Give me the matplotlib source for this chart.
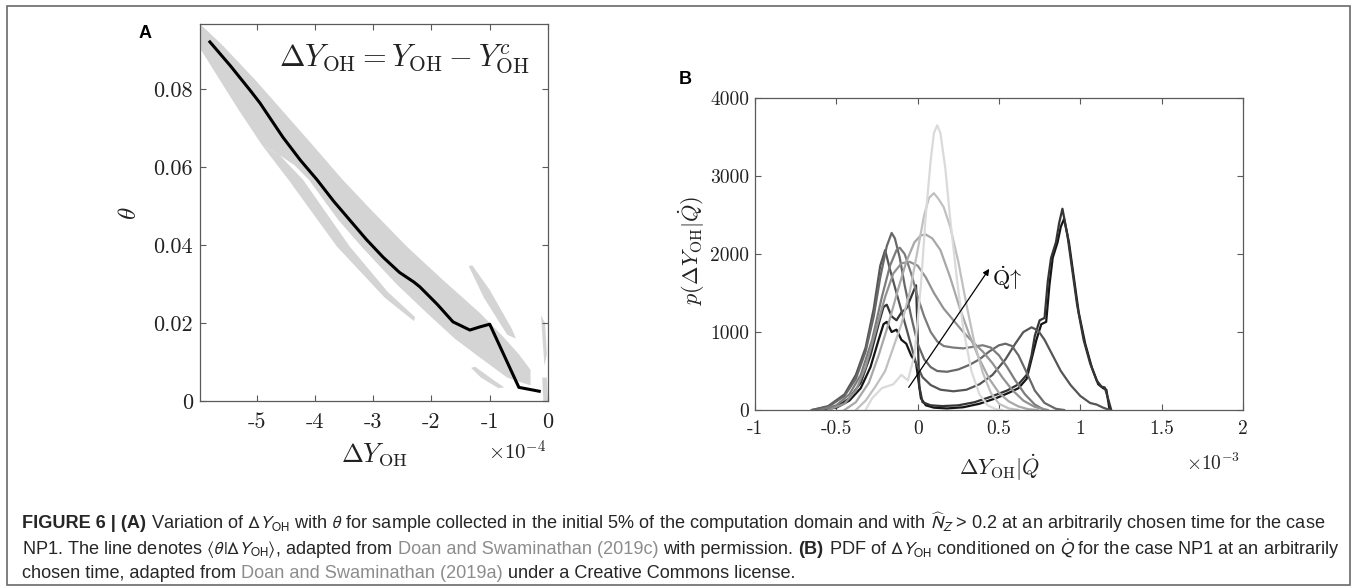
import numpy as np
import matplotlib.pyplot as plt
from matplotlib.patches import Rectangle

plt.rcParams['mathtext.fontset'] = 'cm'

W, H = 1357, 588

# ---------------- panel A (x in units of 1e-4) ----------------
lineA_x = [-5.80, -5.45, -5.10, -4.94, -4.55, -4.25, -3.96, -3.68, -3.40, -3.12, -2.83,
           -2.55, -2.30, -2.20, -1.90, -1.63, -1.34, -1.17, -1.00, -0.50, -0.15]
lineA_y = [0.0921, 0.0860, 0.0795, 0.0764, 0.0677, 0.0618, 0.0567, 0.0513, 0.0464, 0.0415, 0.0369,
           0.0330, 0.0305, 0.0293, 0.0248, 0.0203, 0.0182, 0.0190, 0.0197, 0.0035, 0.0025]

# outline of the scatter cloud (upper edge then lower edge)
band_x = [-5.97, -5.6, -5.0, -4.5, -4.0, -3.52, -3.0, -2.42, -1.8, -1.17, -0.8, -0.5, -0.3,
          -0.3, -0.7, -1.2, -1.6, -2.08, -2.6, -3.2, -3.6, -4.1, -4.35, -4.6, -4.9, -5.3, -5.7, -5.97]
band_y = [0.0967, 0.0915, 0.082, 0.0735, 0.065, 0.0567, 0.0485, 0.0396, 0.031, 0.0226, 0.017, 0.012, 0.008,
          0.004, 0.006, 0.0115, 0.016, 0.0226, 0.030, 0.0396, 0.0465, 0.0567, 0.0605, 0.063, 0.0655,
          0.0745, 0.084, 0.0905]
thin_x = [-4.6, -4.2, -3.4, -2.75, -2.28, -2.30, -2.8, -3.62, -4.45, -4.9]
thin_y = [0.063, 0.0567, 0.0396, 0.028, 0.0215, 0.0205, 0.0265, 0.0396, 0.0567, 0.0655]
streak1_x = [-1.36, -1.30, -1.0, -0.62, -0.55, -0.70, -1.10]
streak1_y = [0.0346, 0.0348, 0.0285, 0.0185, 0.0160, 0.0170, 0.0265]
streak2_x = [-1.32, -1.25, -0.9, -0.75, -0.85, -1.15]
streak2_y = [0.0085, 0.0088, 0.0050, 0.0035, 0.0033, 0.0060]
hook_x = [-0.12, -0.05, -0.02, -0.06, -0.09]
hook_y = [0.022, 0.020, 0.012, 0.009, 0.015]
blob_x = [-0.10, -0.02, 0.0, -0.08]
blob_y = [0.006, 0.006, 0.0, 0.0]

A_xticks = [-5, -4, -3, -2, -1, 0]
A_xlabels = ['-5', '-4', '-3', '-2', '-1', '0']
A_yticks = [0, 0.02, 0.04, 0.06, 0.08]
A_ylabels = ['0', '0.02', '0.04', '0.06', '0.08']

# ---------------- panel B (x in units of 1e-3) ----------------
curves = [
    ('#151515',
     [-0.62, -0.5, -0.42, -0.35, -0.29, -0.24, -0.21, -0.19, -0.16, -0.13, -0.10, -0.07, -0.04, -0.01, 0.02,
      0.05, 0.10, 0.18, 0.28, 0.38, 0.48, 0.56, 0.62, 0.67, 0.70, 0.73, 0.76, 0.79, 0.81, 0.83, 0.86, 0.88,
      0.90, 0.93, 0.96, 0.99, 1.03, 1.07, 1.11, 1.14, 1.16, 1.18],
     [0, 30, 120, 280, 550, 900, 1100, 1130, 1000, 1030, 900, 850, 700, 600, 150,
      60, 30, 20, 35, 80, 150, 220, 280, 400, 650, 900, 1100, 1130, 1600, 1950, 2150, 2350,
      2450, 2150, 1700, 1250, 850, 550, 330, 280, 260, 0]),
    ('#353535',
     [-0.62, -0.5, -0.42, -0.35, -0.29, -0.24, -0.21, -0.19, -0.16, -0.13, -0.10, -0.07, -0.04, -0.01, 0.01,
      0.03, 0.08, 0.15, 0.25, 0.35, 0.45, 0.55, 0.62, 0.67, 0.70, 0.72, 0.75, 0.78, 0.80, 0.82, 0.85, 0.87,
      0.89, 0.92, 0.95, 0.98, 1.02, 1.06, 1.10, 1.13, 1.15, 1.17, 1.19],
     [0, 40, 150, 350, 700, 1100, 1320, 1350, 1200, 1150, 1250, 1300, 1450, 1600, 300,
      100, 60, 50, 60, 100, 170, 250, 330, 450, 700, 950, 1150, 1180, 1650, 1950, 2150, 2400,
      2580, 2250, 1800, 1350, 900, 600, 380, 300, 290, 150, 0]),
    ('#555555',
     [-0.65, -0.55, -0.45, -0.38, -0.32, -0.27, -0.23, -0.20, -0.17, -0.13, -0.09, -0.05, -0.01, 0.03, 0.08,
      0.14, 0.22, 0.30, 0.38, 0.46, 0.54, 0.60, 0.65, 0.70, 0.74, 0.78, 0.83, 0.88, 0.94, 1.0, 1.06, 1.10,
      1.14, 1.18],
     [0, 50, 200, 450, 800, 1300, 1850, 2050, 1800, 1500, 1200, 900, 600, 420, 320,
      260, 240, 260, 330, 450, 650, 850, 1000, 1060, 1020, 900, 700, 500, 320, 180, 90, 70,
      30, 0]),
    ('#686868',
     [-0.65, -0.55, -0.45, -0.38, -0.32, -0.27, -0.23, -0.19, -0.16, -0.14, -0.11, -0.08, -0.04, 0.0, 0.04,
      0.08, 0.12, 0.18, 0.25, 0.32, 0.38, 0.44, 0.50, 0.54, 0.58, 0.62, 0.67, 0.72, 0.78, 0.85, 0.90],
     [0, 40, 180, 400, 750, 1200, 1700, 2100, 2270, 2200, 1950, 1600, 1200, 850, 650,
      550, 500, 490, 520, 580, 650, 750, 830, 850, 820, 700, 480, 250, 90, 15, 0]),
    ('#7c7c7c',
     [-0.6, -0.5, -0.42, -0.35, -0.28, -0.22, -0.17, -0.13, -0.11, -0.08, -0.04, 0.0, 0.04, 0.08, 0.12,
      0.16, 0.22, 0.28, 0.34, 0.40, 0.45, 0.50, 0.55, 0.60, 0.66, 0.72, 0.78],
     [0, 60, 200, 450, 900, 1450, 1850, 2050, 2080, 2000, 1750, 1450, 1200, 1000, 880,
      820, 800, 790, 810, 830, 800, 700, 550, 380, 200, 70, 0]),
    ('#929292',
     [-0.55, -0.45, -0.38, -0.32, -0.26, -0.20, -0.15, -0.10, -0.05, 0.0, 0.05, 0.10, 0.16, 0.22, 0.28,
      0.34, 0.40, 0.46, 0.52, 0.58, 0.65, 0.72, 0.80],
     [0, 80, 250, 550, 1000, 1450, 1750, 1880, 1900, 1850, 1700, 1500, 1300, 1150, 1000,
      870, 750, 600, 420, 260, 120, 40, 0]),
    ('#a8a8a8',
     [-0.45, -0.38, -0.30, -0.24, -0.18, -0.12, -0.07, -0.02, 0.02, 0.05, 0.09, 0.14, 0.20, 0.26, 0.32,
      0.38, 0.44, 0.50, 0.56, 0.62, 0.68, 0.74],
     [0, 100, 350, 700, 1100, 1550, 1900, 2150, 2240, 2250, 2200, 2050, 1700, 1300, 950,
      650, 400, 220, 110, 45, 10, 0]),
    ('#c0c0c0',
     [-0.38, -0.32, -0.26, -0.20, -0.15, -0.10, -0.05, 0.0, 0.04, 0.07, 0.10, 0.13, 0.16, 0.20, 0.25,
      0.30, 0.35, 0.40, 0.45, 0.50, 0.56, 0.62],
     [0, 120, 300, 500, 800, 1100, 1500, 2050, 2500, 2720, 2780, 2700, 2600, 2350, 1900,
      1350, 850, 480, 220, 80, 20, 0]),
    ('#dadada',
     [-0.32, -0.28, -0.22, -0.15, -0.10, -0.06, -0.02, 0.02, 0.05, 0.08, 0.10, 0.12, 0.14, 0.17, 0.20,
      0.24, 0.28, 0.33, 0.38, 0.43, 0.48, 0.52],
     [0, 150, 280, 330, 450, 380, 700, 1600, 2500, 3200, 3550, 3650, 3550, 3100, 2450,
      1700, 1050, 500, 200, 60, 10, 0]),
]
arrow_start = (-0.055, 290)
arrow_end = (0.44, 1810)
arrow_label_pos = (0.46, 1690)

B_xticks = [-1, -0.5, 0, 0.5, 1, 1.5, 2]
B_xlabels = ['-1', '-0.5', '0', '0.5', '1', '1.5', '2']
B_yticks = [0, 1000, 2000, 3000, 4000]
B_ylabels = ['0', '1000', '2000', '3000', '4000']

fig = plt.figure(figsize=(W / 100, H / 100), dpi=100)
spine_c = '#5a5a5a'


def style(ax, fs):
    for s in ax.spines.values():
        s.set_color(spine_c)
        s.set_linewidth(0.9)
    ax.tick_params(direction='in', top=True, right=True, length=4, width=0.8,
                   color=spine_c, labelcolor='#222222', labelsize=fs)


# ---- A
axA = fig.add_axes([200 / W, 1 - 401 / H, 348 / W, 377 / H])
for px, py in [(band_x, band_y), (thin_x, thin_y), (streak1_x, streak1_y),
               (streak2_x, streak2_y), (hook_x, hook_y), (blob_x, blob_y)]:
    axA.fill(px, py, color='#d4d4d4', lw=0)
axA.plot(lineA_x, lineA_y, color='black', lw=2.2)
axA.set_xlim(-5.97, 0)
axA.set_ylim(0, 0.0967)
axA.set_xticks(A_xticks)
axA.set_xticklabels(A_xlabels, fontfamily='cmr10')
axA.set_yticks(A_yticks)
axA.set_yticklabels(A_ylabels, fontfamily='cmr10')
style(axA, 16)
axA.tick_params(axis='x', pad=8)
axA.tick_params(axis='y', pad=5)
axA.text(-2.46, 0.0875, r'$\Delta Y_{\mathrm{OH}} = Y_{\mathrm{OH}} - Y_{\mathrm{OH}}^{c}$',
         ha='center', va='center', fontsize=22, color='#222222')
fig.text(374 / W, 1 - 455 / H, r'$\Delta Y_{\mathrm{OH}}$', ha='center', va='center',
         fontsize=19, color='#222222')
fig.text(546 / W, 1 - 452 / H, r'$\times10^{-4}$', ha='right', va='center',
         fontsize=15, color='#222222')
fig.text(129 / W, 1 - 213 / H, r'$\theta$', ha='center', va='center', rotation=90,
         fontsize=18, color='#222222')
fig.text(145 / W, 1 - 33 / H, 'A', ha='center', va='center', fontsize=13,
         fontweight='bold', family='Liberation Sans')

# ---- B
axB = fig.add_axes([755 / W, 1 - 410 / H, 488 / W, 312 / H])
for c, xs, ys in curves:
    axB.plot(xs, ys, color=c, lw=1.6)
axB.annotate('', xy=arrow_end, xytext=arrow_start,
             arrowprops=dict(arrowstyle='-|>', color='black', lw=0.9, mutation_scale=9,
                             shrinkA=0, shrinkB=0))
axB.text(arrow_label_pos[0], arrow_label_pos[1], r'$\dot{\mathrm{Q}}\!\uparrow$',
         ha='left', va='center', fontsize=16, color='#111111')
axB.set_xlim(-1, 2)
axB.set_ylim(0, 4000)
axB.set_xticks(B_xticks)
axB.set_xticklabels(B_xlabels, fontfamily='cmr10')
axB.set_yticks(B_yticks)
axB.set_yticklabels(B_ylabels, fontfamily='cmr10')
style(axB, 14)
axB.tick_params(axis='x', pad=7)
axB.tick_params(axis='y', pad=4)
fig.text(1000 / W, 1 - 468 / H, r'$\Delta Y_{\mathrm{OH}}|\dot{Q}$', ha='center', va='center',
         fontsize=16, color='#222222')
fig.text(1240 / W, 1 - 463 / H, r'$\times10^{-3}$', ha='right', va='center',
         fontsize=14, color='#222222')
fig.text(692 / W, 1 - 250 / H, r'$p(\Delta Y_{\mathrm{OH}}|\dot{Q})$', ha='center', va='center',
         rotation=90, fontsize=16, color='#222222')
fig.text(685 / W, 1 - 80 / H, 'B', ha='center', va='center', fontsize=13,
         fontweight='bold', family='Liberation Sans')

# ---- outer frame
fig.add_artist(Rectangle((7 / W, 1 - 585 / H), (1350 - 7) / W, (585 - 6) / H,
                         transform=fig.transFigure, fill=False, edgecolor='#6a6a6a', lw=1.2))

# ---- caption
txt_c = '#262626'
link_c = '#8c8c8c'
cap_family = ['Liberation Sans', 'DejaVu Sans']
cap_lines = [
    [('FIGURE 6 | (A)', 'bold', txt_c),
     (r'Variation of $\Delta Y_{\mathrm{OH}}$ with $\theta$ for sample collected in the initial 5% '
      r'of the computation domain and with $\widehat{N}_Z$ > 0.2 at an arbitrarily chosen time for the case',
      'normal', txt_c)],
    [(r'NP1. The line denotes $\langle\theta|\Delta Y_{\mathrm{OH}}\rangle$, adapted from', 'normal', txt_c),
     ('Doan and Swaminathan (2019c)', 'normal', link_c),
     ('with permission.', 'normal', txt_c),
     ('(B)', 'bold', txt_c),
     (r'PDF of $\Delta Y_{\mathrm{OH}}$ conditioned on $\dot{Q}$ for the case NP1 at an arbitrarily',
      'normal', txt_c)],
    [('chosen time, adapted from', 'normal', txt_c),
     ('Doan and Swaminathan (2019a)', 'normal', link_c),
     ('under a Creative Commons license.', 'normal', txt_c)],
]
cap_y = [523, 549, 573]

renderer = fig.canvas.get_renderer()


def text_w(s, fs, wgt='normal'):
    t = fig.text(0, 0, s, fontsize=fs, fontweight=wgt, family=cap_family,
                 math_fontfamily='stixsans')
    w = t.get_window_extent(renderer).width
    t.remove()
    return w


base_fs = 11
sp = text_w('a a', base_fs) - text_w('aa', base_fs)
widest = max(sum(text_w(s, base_fs, wgt) for s, wgt, c in ch) + sp * (len(ch) - 1)
             for ch in cap_lines)
cap_fs = base_fs * (1336 - 22) / widest
sp = sp * cap_fs / base_fs

for chunks, yy in zip(cap_lines, cap_y):
    x = 22
    for s, wgt, c in chunks:
        t = fig.text(x / W, 1 - yy / H, s, fontsize=cap_fs, fontweight=wgt, color=c,
                     family=cap_family, math_fontfamily='stixsans', ha='left', va='center')
        x += t.get_window_extent(renderer).width + sp

fig.savefig('out.png', dpi=100)
